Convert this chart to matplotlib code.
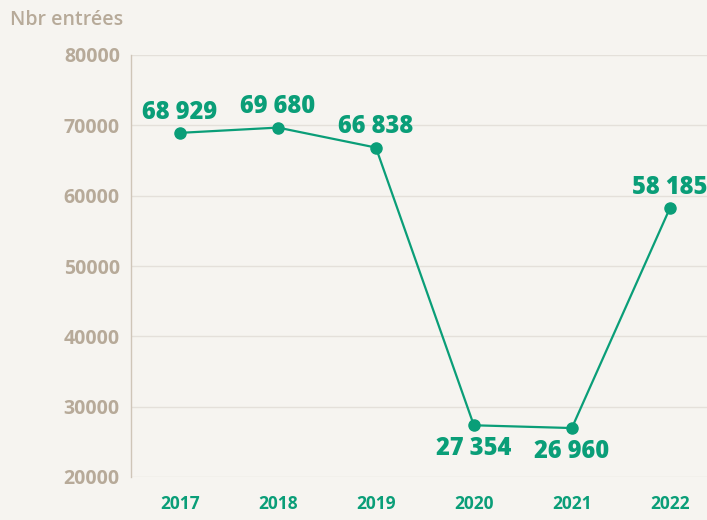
import matplotlib
matplotlib.use('Agg')
import matplotlib.pyplot as plt

# data
years = ['2017', '2018', '2019', '2020', '2021', '2022']
entrees = [68929, 69680, 66838, 27354, 26960, 58185]
labels = ['68 929', '69 680', '66 838', '27 354', '26 960', '58 185']
label_below = [False, False, False, True, True, False]
y_ticks = [20000, 30000, 40000, 50000, 60000, 70000, 80000]

green = '#0a9e78'
tan = '#b7aa99'
bg = '#f6f4f0'

fig = plt.figure(figsize=(7.07, 5.2), dpi=100, facecolor=bg)
ax = fig.add_axes([131 / 707, 1 - 477 / 520, 576 / 707, 422 / 520])
ax.set_facecolor(bg)

x = list(range(len(years)))
ax.plot(x, entrees, color=green, lw=1.6, marker='o', ms=8, zorder=3)

for xi, v, lab, below in zip(x, entrees, labels, label_below):
    off = -17 if below else 15
    ax.annotate(lab, (xi, v), xytext=(0, off), textcoords='offset points',
                ha='center', va='center', color=green, fontsize=17,
                fontweight=800, family='Open Sans')

ax.set_xlim(-0.5, 5.38)
ax.set_ylim(20000, 80000)
ax.set_yticks(y_ticks)
ax.set_yticklabels([str(t) for t in y_ticks], color=tan, fontsize=14,
                   fontweight='bold', family='Open Sans')
ax.set_xticks(x)
ax.set_xticklabels(years, color=green, fontsize=12.5, fontweight='bold', family='Open Sans')
ax.tick_params(axis='y', length=0, pad=8)
ax.tick_params(axis='x', length=0, pad=13)

ax.grid(axis='y', color='#e4e0da', lw=1)
ax.set_axisbelow(True)
for s in ['top', 'right', 'bottom']:
    ax.spines[s].set_visible(False)
ax.spines['left'].set_color('#cfc5b8')
ax.spines['left'].set_linewidth(1)

fig.text(10 / 707, 1 - 20 / 520, 'Nbr entrées', color=tan, fontsize=14,
         fontweight='semibold', family='Open Sans', va='center', ha='left')

fig.savefig('out.png', dpi=100, facecolor=bg)
